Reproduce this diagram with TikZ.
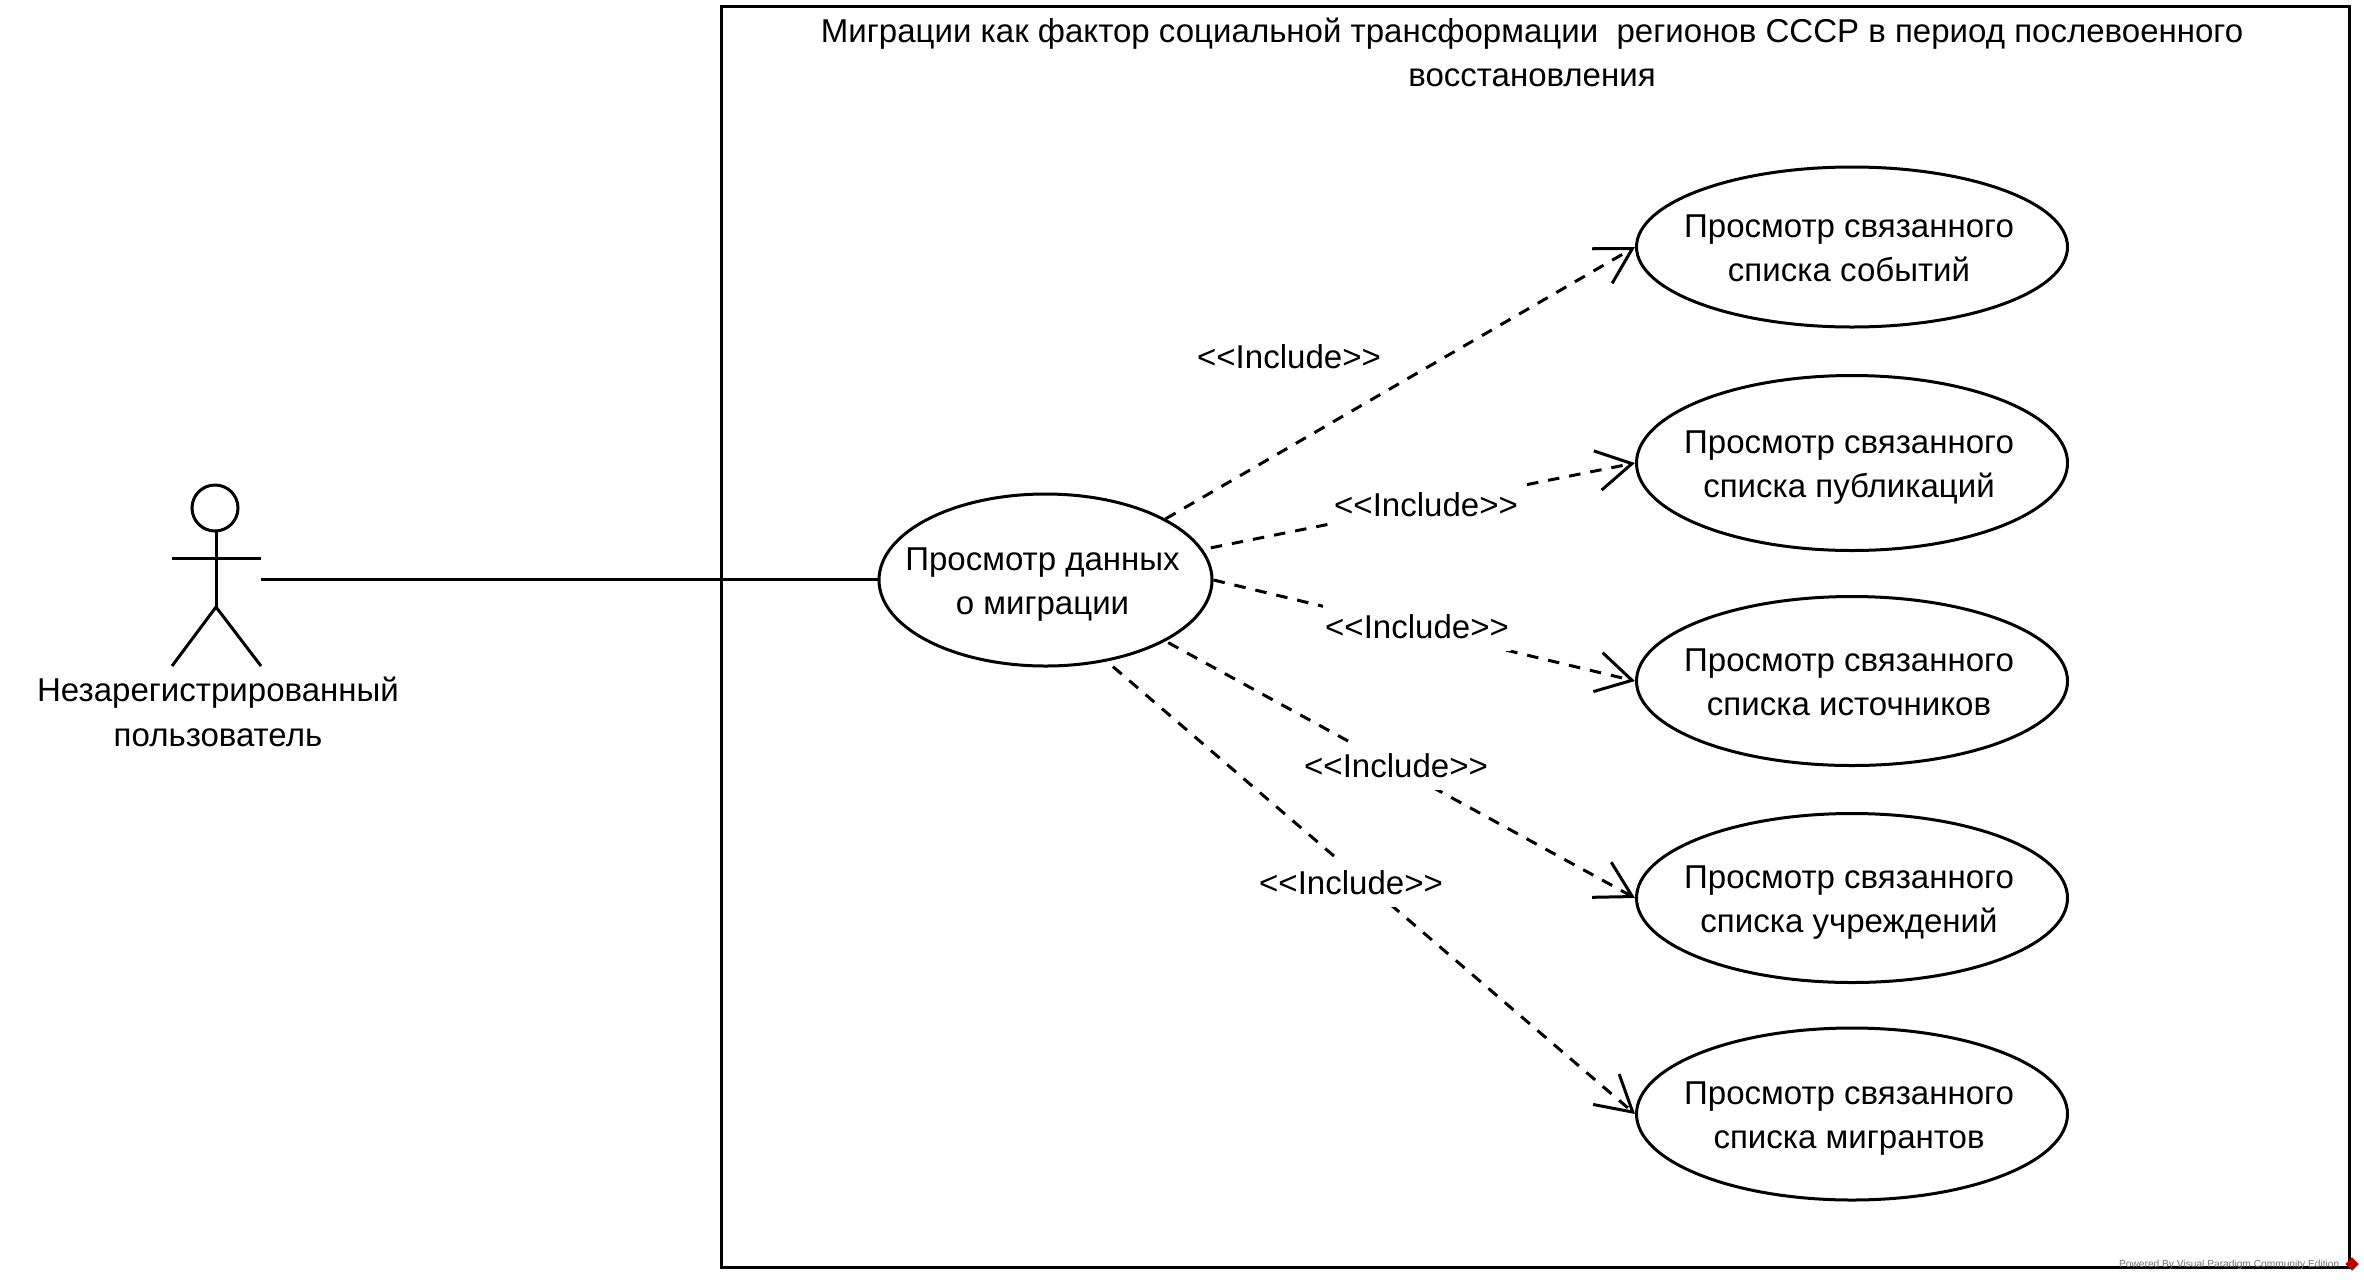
\documentclass[tikz,border=0pt]{standalone}
\usepackage{fontspec}
\setmainfont{Liberation Sans}
\usetikzlibrary{arrows.meta,shapes.geometric}
\tikzset{
    uml/.style={line width=0.03cm},
    usecase/.style={uml,draw,ellipse,inner sep=0pt,minimum width=4.31cm,
        label={[align=center,font=\umlfont,text depth=0pt,xshift=-0.03cm,yshift=-0.01cm]center:#1}},
    includeline/.style={uml,dash pattern=on 0.115cm off 0.1cm,
        -{Straight Barb[length=0.35cm,width=0.40cm]}},
    includelabel/.style={fill=white,inner xsep=0.02cm,inner ysep=0pt,minimum height=0.47cm,font=\umlfont},
}
\newcommand{\umlfont}{\fontsize{9.4pt}{12.65pt}\selectfont}
\begin{document}
\begin{tikzpicture}
    \useasboundingbox (0,0) rectangle (23.64,-12.81);

    \draw[uml] (7.21,-0.06) rectangle (23.49,-12.67);
    \node[align=center,font=\umlfont] (title) at (15.32,-0.525)
        {Миграции как фактор социальной трансформации\ \ регионов СССР в период послевоенного\\восстановления};

    \draw[uml] (2.15,-5.08) circle (0.23);
    \draw[uml] (2.16,-5.31) -- (2.16,-6.07);
    \draw[uml] (1.72,-5.58) -- (2.61,-5.58);
    \draw[uml] (1.72,-6.66) -- (2.16,-6.07) -- (2.61,-6.66);
    \coordinate (actor) at (2.61,-5.79);
    \node[align=center,font=\umlfont] (actorname) at (2.18,-7.12)
        {Незарегистрированный\\пользователь};

    \node[usecase={Просмотр данных\\о миграции},minimum width=3.33cm,minimum height=1.72cm] (migration) at (10.455,-5.80) {};
    \node[usecase={Просмотр связанного\\списка событий},minimum height=1.60cm] (events) at (18.52,-2.47) {};
    \node[usecase={Просмотр связанного\\списка публикаций},minimum height=1.75cm] (publications) at (18.52,-4.63) {};
    \node[usecase={Просмотр связанного\\списка источников},minimum height=1.69cm] (sources) at (18.52,-6.81) {};
    \node[usecase={Просмотр связанного\\списка учреждений},minimum height=1.69cm] (institutions) at (18.52,-8.98) {};
    \node[usecase={Просмотр связанного\\списка мигрантов},minimum height=1.72cm] (migrants) at (18.52,-11.14) {};

    \draw[uml] (actor) -- (migration.west |- actor);
    \draw[includeline] (migration.27) -- (events.west);
    \draw[includeline,shorten <=0.08cm] (migration.11) -- (publications.west);
    \draw[includeline] (migration.0) -- (sources.west);
    \draw[includeline,shorten <=0.03cm] (migration.-27) -- (institutions.west);
    \draw[includeline,shorten <=0.08cm] (migration.-53) -- (migrants.west);

    \node[includelabel] (label1) at (12.89,-3.57) {{<}{<}Include{>}{>}};
    \node[includelabel] (label2) at (14.26,-5.05) {{<}{<}Include{>}{>}};
    \node[includelabel] (label3) at (14.17,-6.27) {{<}{<}Include{>}{>}};
    \node[includelabel] (label4) at (13.96,-7.66) {{<}{<}Include{>}{>}};
    \node[includelabel] (label5) at (13.51,-8.83) {{<}{<}Include{>}{>}};

    \node[text=black!55,font=\fontsize{2.9pt}{3pt}\selectfont,inner sep=0pt,anchor=east] (powered) at (23.40,-12.65)
        {Powered By Visual Paradigm Community Edition};
    \node[diamond,fill=red!75!black,inner sep=0pt,minimum size=0.14cm] (vplogo) at (23.52,-12.64) {};
\end{tikzpicture}
\end{document}
